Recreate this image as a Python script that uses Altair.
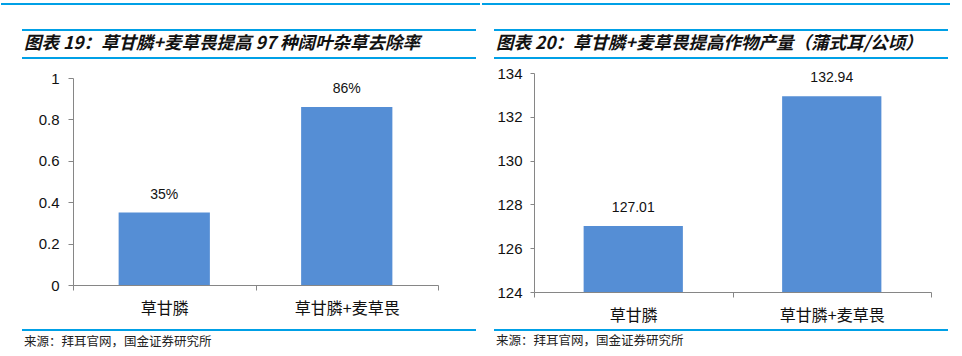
import altair as alt
import pandas as pd

# ---- data ----
categories = ["草甘膦", "草甘膦+麦草畏"]
removal_rate = [0.35, 0.86]
yield_bu = [127.01, 132.94]
rate_axis = [0, 1]
yield_axis = [124, 134]
title_left = "图表 19：草甘膦+麦草畏提高 97 种阔叶杂草去除率"
title_right = "图表 20：草甘膦+麦草畏提高作物产量（蒲式耳/公顷）"
source_text = "来源：拜耳官网，国金证券研究所"

BAR = "#558ED5"
LINE = "#00A0E6"
AX = "#868686"
CJK = "Noto Sans CJK SC"
LAT = "Liberation Sans"

one = alt.Data(values=[{"k": 1}])


def deco(top_l, top_r, rule_l, rule_r, top_y, t1, t2, tx, ty, bot_y, src_y, title):
    layers = []
    for (xa, xb, yy) in [(top_l, top_r, top_y), (rule_l, rule_r, t1), (rule_l, rule_r, t2), (rule_l, rule_r, bot_y)]:
        layers.append(
            alt.Chart(one).mark_rule(color=LINE, strokeWidth=2).encode(
                x=alt.value(xa), x2=alt.value(xb), y=alt.value(yy)
            )
        )
    layers.append(
        alt.Chart(one).mark_text(
            text=title, font=CJK, fontSize=17.5, fontWeight="bold", fontStyle="italic",
            align="left", baseline="middle", color="#111111"
        ).encode(x=alt.value(tx), y=alt.value(ty))
    )
    layers.append(
        alt.Chart(one).mark_text(
            text=source_text, font=CJK, fontSize=12.5, align="left", baseline="middle", color="#222222"
        ).encode(x=alt.value(tx), y=alt.value(src_y))
    )
    return layers


xenc = alt.X(
    "cat:N", sort=categories, title=None,
    scale=alt.Scale(paddingInner=0, paddingOuter=0),
    axis=alt.Axis(labelAngle=0, tickBand="extent", tickSize=5, tickColor=AX, domainColor=AX,
                  labelFont=CJK, labelFontSize=16, labelColor="#111111", labelPadding=10),
)

# ---- left panel ----
df1 = pd.DataFrame({"cat": categories, "v": removal_rate})
W1, H1 = 365, 212
base1 = alt.Chart(df1)
bars1 = base1.mark_bar(color=BAR, width=alt.RelativeBandSize(0.5)).encode(
    x=xenc,
    y=alt.Y("v:Q", title=None, scale=alt.Scale(domain=rate_axis, nice=False, range=[H1, 5]),
            axis=alt.Axis(values=[0, 0.2, 0.4, 0.6, 0.8, 1], format="~g", grid=False, tickSize=5,
                          tickColor=AX, domainColor=AX, labelFont=LAT, labelFontSize=15,
                          labelColor="#111111", labelPadding=9)),
)
text1 = base1.mark_text(font=LAT, fontSize=14, dy=-18, baseline="middle", color="#111111").encode(
    x=alt.X("cat:N", sort=categories), y="v:Q", text=alt.Text("v:Q", format=".0%")
)
left = alt.layer(
    bars1, text1,
    *deco(-72, 407, -51, 403, -69, -43, -15, -49, -29, 257, 269, title_left)
).properties(width=W1, height=H1)

# ---- right panel ----
df2 = pd.DataFrame({"cat": categories, "v": yield_bu})
W2, H2 = 397, 219
base2 = alt.Chart(df2)
bars2 = base2.mark_bar(color=BAR, width=alt.RelativeBandSize(0.5)).encode(
    x=xenc,
    y=alt.Y("v:Q", title=None, scale=alt.Scale(domain=yield_axis, zero=False, nice=False),
            axis=alt.Axis(values=[124, 126, 128, 130, 132, 134], grid=False, tickSize=4,
                          tickColor=AX, domainColor=AX, labelFont=LAT, labelFontSize=15,
                          labelColor="#111111", labelPadding=8)),
    y2=alt.datum(yield_axis[0]),
)
text2 = base2.mark_text(font=LAT, fontSize=14, dy=-18, baseline="middle", color="#111111").encode(
    x=alt.X("cat:N", sort=categories), y="v:Q", text=alt.Text("v:Q", format=".2f")
)
right = alt.layer(
    bars2, text2,
    *deco(-52, 416, -40, 414, -69, -43, -15, -38, -29, 257, 268, title_right)
).properties(width=W2, height=H2)

chart = alt.hconcat(left, right, spacing=0).properties(
    padding={"left": 0, "top": 3, "right": 0, "bottom": 0}
).configure_view(stroke=None).configure_axis(domainWidth=1, tickWidth=1)

chart.save("out.html", embed_options={"renderer": "svg", "actions": False})
